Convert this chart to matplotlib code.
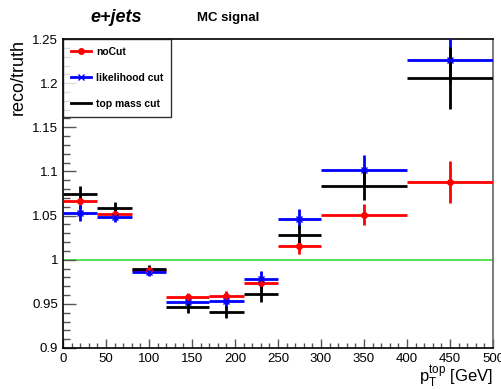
import matplotlib
matplotlib.use("Agg")
import matplotlib.pyplot as plt
from matplotlib.ticker import MultipleLocator
from matplotlib.lines import Line2D
import numpy as np

plt.rcParams['font.family'] = ['Liberation Sans', 'DejaVu Sans']

# pT(top) bins [GeV]
bin_lo = [0, 40, 80, 120, 170, 210, 250, 300, 400]
bin_hi = [40, 80, 120, 170, 210, 250, 300, 400, 500]
bin_center = [20, 60, 100, 145, 190, 230, 275, 350, 450]

# reco/truth ratios
nocut = [1.067, 1.052, 0.988, 0.958, 0.959, 0.974, 1.016, 1.051, 1.088]
nocut_err = [0.008, 0.005, 0.004, 0.004, 0.005, 0.007, 0.009, 0.012, 0.024]
likelihood = [1.053, 1.048, 0.986, 0.952, 0.953, 0.978, 1.046, 1.102, 1.226]
likelihood_err = [0.009, 0.005, 0.004, 0.005, 0.006, 0.009, 0.011, 0.017, 0.026]
topmass = [1.075, 1.059, 0.990, 0.946, 0.941, 0.961, 1.028, 1.084, 1.206]
topmass_err = [0.009, 0.006, 0.004, 0.006, 0.007, 0.009, 0.011, 0.016, 0.035]

x_ticks = [0, 50, 100, 150, 200, 250, 300, 350, 400, 450, 500]
y_ticks = [0.9, 0.95, 1.0, 1.05, 1.1, 1.15, 1.2, 1.25]
y_tick_labels = ["0.9", "0.95", "1", "1.05", "1.1", "1.15", "1.2", "1.25"]

series = [
    ("noCut", nocut, nocut_err, "#ff0000", "o"),
    ("likelihood cut", likelihood, likelihood_err, "#0000ff", "x"),
    ("top mass cut", topmass, topmass_err, "#000000", None),
]

fig = plt.figure(figsize=(5.01, 3.89), dpi=100)
ax = fig.add_axes([0.1257, 0.1054, 0.8583, 0.7943])

xc = np.array(bin_center)
xerr = [xc - np.array(bin_lo), np.array(bin_hi) - xc]

ax.axhline(1.0, color="#33dd33", lw=1.2, zorder=1)

handles = []
for name, vals, errs, col, mk in series:
    ax.errorbar(xc, vals, yerr=errs, xerr=xerr, fmt=mk if mk else "none",
                color=col, ecolor=col, elinewidth=2, capsize=0,
                markersize=4, mew=1, zorder=3)
    handles.append(Line2D([], [], color=col, lw=2, marker=mk if mk else None,
                          markersize=4, mew=1, label=name))

ax.set_xlim(0, 500)
ax.set_ylim(0.9, 1.25)
ax.set_xticks(x_ticks)
ax.set_xticklabels([str(v) for v in x_ticks])
ax.set_yticks(y_ticks)
ax.set_yticklabels(y_tick_labels)
ax.xaxis.set_minor_locator(MultipleLocator(10))
ax.yaxis.set_minor_locator(MultipleLocator(0.01))
ax.tick_params(axis="both", which="both", direction="in", labelsize=9.5,
               top=False, right=False, color="#555555")
ax.tick_params(axis="y", which="major", length=9.5, width=1)
ax.tick_params(axis="y", which="minor", length=5, width=1)
ax.tick_params(axis="x", which="major", length=6.5, width=1)
ax.tick_params(axis="x", which="minor", length=3.5, width=1)
for sp in ax.spines.values():
    sp.set_linewidth(1.2)
ax.spines["right"].set_color("#666666")

ax.set_ylabel("reco/truth", fontsize=13, loc="top", labelpad=4)
ax.set_xlabel(r"$\mathregular{p_{T}^{top}}$ [GeV]", fontsize=12, loc="right", labelpad=-1)

leg = ax.legend(handles=handles, loc="upper left", frameon=True,
                fancybox=False, edgecolor="black", borderaxespad=0,
                handlelength=1.9, handletextpad=0.5, labelspacing=1.55,
                borderpad=0.75, prop={"weight": "bold", "size": 7.5})
leg.get_frame().set_linewidth(1.0)

fig.text(0.232, 0.955, "e+jets", fontsize=13, fontweight="bold",
         fontstyle="italic", ha="center", va="center")
fig.text(0.394, 0.955, "MC signal", fontsize=9.5, fontweight="bold",
         ha="left", va="center")

fig.savefig("out.png", dpi=100)
